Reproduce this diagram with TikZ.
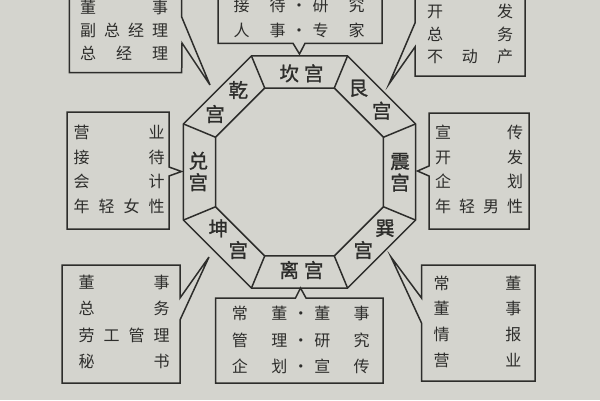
\documentclass[tikz,border=0pt]{standalone}
\usepackage{fontspec}
\setmainfont{Noto Sans CJK SC}
\newfontfamily\palacefont[FakeBold=1.2]{Noto Sans CJK SC}
\definecolor{paper}{RGB}{212,212,206}
\definecolor{ink}{RGB}{45,45,43}
\newcommand\spreadrow[1]{\noindent\hbox to\linewidth{#1}\par}
\newcommand\mdot{\hbox to 27pt{\hss·\hss}}

\begin{document}
\begin{tikzpicture}[x=1pt,y=-1pt,
  boxline/.style={draw=ink,line width=1.5pt,fill=paper},
  octline/.style={draw=ink,line width=1.5pt},
  boxtext/.style={text=ink,inner sep=0pt},
  palace/.style={text=ink,inner sep=0pt,font=\palacefont\fontsize{19.5}{21.5}\selectfont}]
 \useasboundingbox (0,0) rectangle (600,400);
 \fill[paper] (0,0) rectangle (600,400);
 \clip (0,0) rectangle (600,400);
%
 \coordinate (o) at (299.5,172);
 \draw[octline] (o) +(22.5:125.6) -- +(67.5:125.6) -- +(112.5:125.6) -- +(157.5:125.6)
   -- +(202.5:125.6) -- +(247.5:125.6) -- +(292.5:125.6) -- +(337.5:125.6) -- cycle;
 \draw[octline] (o) +(22.5:90.9) -- +(67.5:90.9) -- +(112.5:90.9) -- +(157.5:90.9)
   -- +(202.5:90.9) -- +(247.5:90.9) -- +(292.5:90.9) -- +(337.5:90.9) -- cycle;
 \draw[octline] (o) +(22.5:90.9) -- +(22.5:125.6);
 \draw[octline] (o) +(67.5:90.9) -- +(67.5:125.6);
 \draw[octline] (o) +(112.5:90.9) -- +(112.5:125.6);
 \draw[octline] (o) +(157.5:90.9) -- +(157.5:125.6);
 \draw[octline] (o) +(202.5:90.9) -- +(202.5:125.6);
 \draw[octline] (o) +(247.5:90.9) -- +(247.5:125.6);
 \draw[octline] (o) +(292.5:90.9) -- +(292.5:125.6);
 \draw[octline] (o) +(337.5:90.9) -- +(337.5:125.6);
%
 \node[palace] (kan) at (301.5,73.3) {坎\hspace{5pt}宫};
 \node[palace] (li) at (301.5,270) {离\hspace{5pt}宫};
 \node[palace,align=center] (dui) at (198.3,171.5) {兑\\宫};
 \node[palace,align=center] (zhen) at (400,172.2) {震\\宫};
 \node[palace] (qian) at (238.3,90) {乾};
 \node[palace] (qian2) at (215,114) {宫};
 \node[palace] (gen) at (358.3,88.3) {艮};
 \node[palace] (gen2) at (381.7,110.7) {宫};
 \node[palace] (xun) at (385,228.3) {巽};
 \node[palace] (xun2) at (363.3,250) {宫};
 \node[palace] (kun) at (218.3,228.3) {坤};
 \node[palace] (kun2) at (238.3,250) {宫};
%
 \coordinate (qiantip) at (210,85);
 \draw[boxline] (69.3,-15) -- (181.7,-15) -- (181.7,17) -- (qiantip) -- (182,43)
   -- (181.7,72.7) -- (69.3,72.7) -- cycle;
 \node[boxtext,text width=88pt,font=\fontsize{16}{23}\selectfont] (qiantext) at (124,30.5)
   {\spreadrow{董\hfill 事}\spreadrow{副\hfill 总\hfill 经\hfill 理}\spreadrow{总\hfill 经\hfill 理}};
%
 \coordinate (kantip) at (299.5,54);
 \draw[boxline] (218,-15) -- (382,-15) -- (382,43.3) -- (305,43.3) -- (kantip)
   -- (293,43.3) -- (218,43.3) -- cycle;
 \node[boxtext,text width=131pt,font=\fontsize{16}{25}\selectfont] (kantext) at (299.2,17.5)
   {\spreadrow{接\hfill 待\mdot 研\hfill 究}\spreadrow{人\hfill 事\mdot 专\hfill 家}};
%
 \coordinate (gentip) at (389,84);
 \draw[boxline] (415,-15) -- (525,-15) -- (525,76) -- (415,76) -- (415,47) -- (gentip)
   -- (415,23) -- cycle;
 \node[boxtext,text width=86pt,font=\fontsize{16}{22.5}\selectfont] (gentext) at (470,34)
   {\spreadrow{开\hfill 发}\spreadrow{总\hfill 务}\spreadrow{不\hfill 动\hfill 产}};
%
 \coordinate (duitip) at (181.5,171.5);
 \draw[boxline] (67,112) -- (169,112) -- (169,167) -- (duitip) -- (169,176) -- (169,229)
   -- (67,229) -- cycle;
 \node[boxtext,text width=91pt,font=\fontsize{16}{24.7}\selectfont] (duitext) at (119.2,169.5)
   {\spreadrow{营\hfill 业}\spreadrow{接\hfill 待}\spreadrow{会\hfill 计}\spreadrow{年\hfill 轻\hfill 女\hfill 性}};
%
 \coordinate (zhentip) at (417.5,171);
 \draw[boxline] (429,113) -- (529,113) -- (529,229) -- (429,229) -- (429,176) -- (zhentip)
   -- (429,166) -- cycle;
 \node[boxtext,text width=88pt,font=\fontsize{16}{24.7}\selectfont] (zhentext) at (479,169.5)
   {\spreadrow{宣\hfill 传}\spreadrow{开\hfill 发}\spreadrow{企\hfill 划}\spreadrow{年\hfill 轻\hfill 男\hfill 性}};
%
 \coordinate (kuntip) at (209,257);
 \draw[boxline] (62,265) -- (180,265) -- (180,298) -- (kuntip) -- (180,320) -- (180,383)
   -- (62,383) -- cycle;
 \node[boxtext,text width=91pt,font=\fontsize{16}{26.3}\selectfont] (kuntext) at (124.2,322)
   {\spreadrow{董\hfill 事}\spreadrow{总\hfill 务}\spreadrow{劳\hfill 工\hfill 管\hfill 理}\spreadrow{秘\hfill 书}};
%
 \coordinate (litip) at (300.5,288);
 \draw[boxline] (215.5,298) -- (295.5,298) -- (litip) -- (306,298) -- (383,298) -- (383,383)
   -- (215.5,383) -- cycle;
 \node[boxtext,text width=137.7pt,font=\fontsize{16}{26.7}\selectfont] (litext) at (300.8,340)
   {\spreadrow{常\hfill 董\mdot 董\hfill 事}\spreadrow{管\hfill 理\mdot 研\hfill 究}\spreadrow{企\hfill 划\mdot 宣\hfill 传}};
%
 \coordinate (xuntip) at (391,257);
 \draw[boxline] (421.5,265) -- (535,265) -- (535,381) -- (421.5,381) -- (421.5,323)
   -- (xuntip) -- (421.5,298) -- cycle;
 \node[boxtext,text width=87.6pt,font=\fontsize{16}{25.7}\selectfont] (xuntext) at (477.5,321.5)
   {\spreadrow{常\hfill 董}\spreadrow{董\hfill 事}\spreadrow{情\hfill 报}\spreadrow{营\hfill 业}};
\end{tikzpicture}
\end{document}
